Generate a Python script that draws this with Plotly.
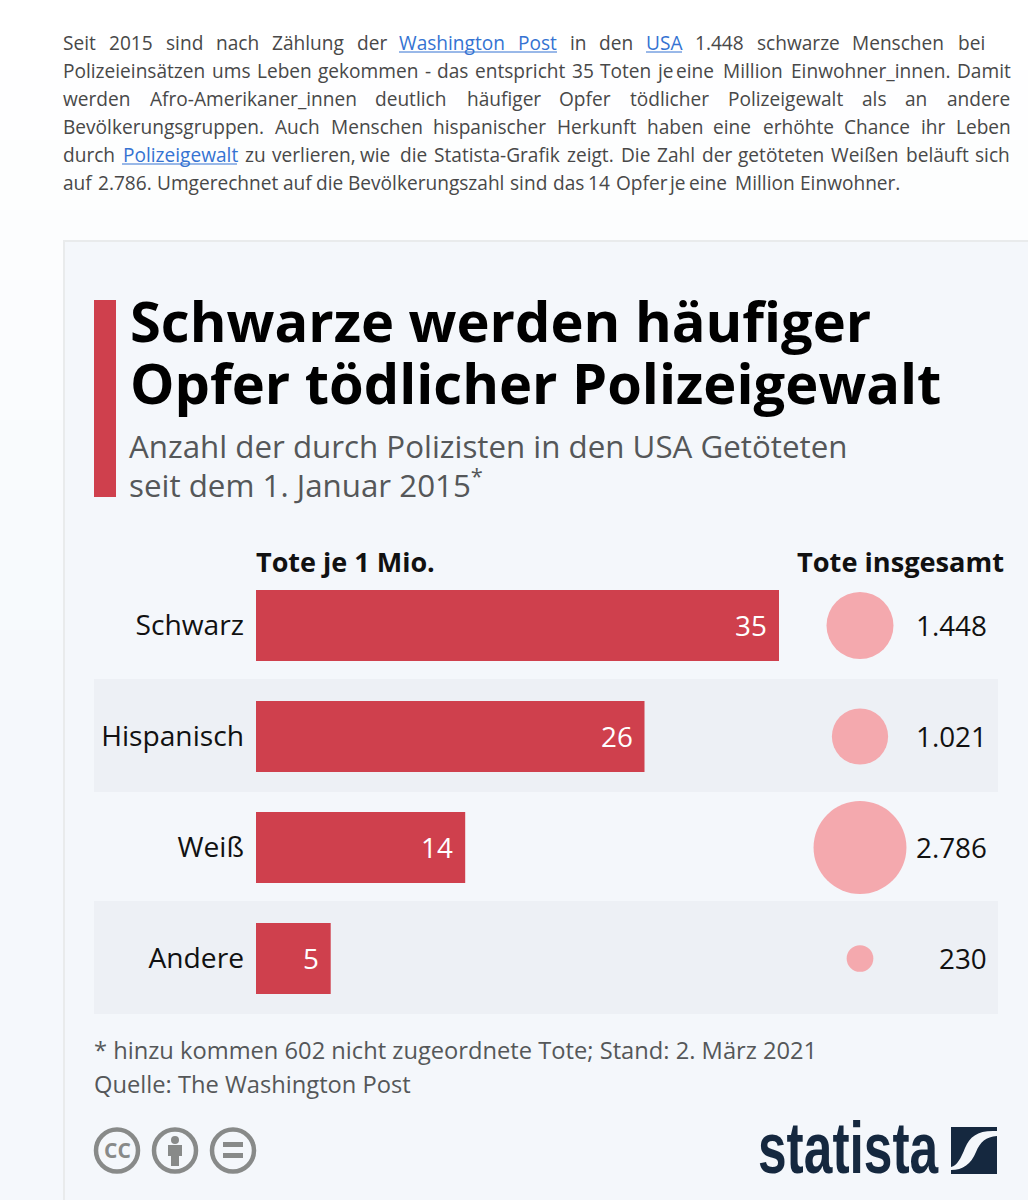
import plotly.graph_objects as go

categories = ['Schwarz', 'Hispanisch', 'Weiß', 'Andere']
per_million = [35, 26, 14, 5]
total_deaths = [1448, 1021, 2786, 230]
total_labels = ['1.448', '1.021', '2.786', '230']

RED = '#cf404d'
PINK = '#f4a9ae'
CARD = '#f4f7fb'
STRIPE = '#edf0f5'
NAVY = '#15283f'
GREY = '#888a89'
BODY = '#484848'
LINK = '#3573d2'
FONT = 'Open Sans'

# justified lines of the intro text: (y, [(x, word), ...])
intro_lines = [
    (43, [(63, 'Seit'), (109, '2015'), (166, 'sind'), (216, 'nach'), (272, 'Zählung'), (357, 'der'),
          (399, 'Washington'), (518, 'Post'), (570, 'in'), (599, 'den'), (646, 'USA'),
          (695, '1.448'), (757, 'schwarze'), (852, 'Menschen'), (958, 'bei')]),
    (71, [(63, 'Polizeieinsätzen'), (212, 'ums'), (257, 'Leben'), (318, 'gekommen'), (425, '-'), (437, 'das'),
          (475, 'entspricht'), (572, '35'), (600, 'Toten'), (656, 'je'), (676, 'eine'), (723, 'Million'),
          (791, 'Einwohner_innen.'), (957, 'Damit')]),
    (99, [(63, 'werden'), (150, 'Afro-Amerikaner_innen'), (375, 'deutlich'), (467, 'häufiger'), (559, 'Opfer'),
          (630, 'tödlicher'), (728, 'Polizeigewalt'), (862, 'als'), (905, 'an'), (947, 'andere')]),
    (127, [(63, 'Bevölkerungsgruppen.'), (275, 'Auch'), (331, 'Menschen'), (433, 'hispanischer'), (557, 'Herkunft'),
           (647, 'haben'), (713, 'eine'), (763, 'erhöhte'), (844, 'Chance'), (921, 'ihr'), (956, 'Leben')]),
    (155, [(63, 'durch'), (123, 'Polizeigewalt'), (245, 'zu'), (272, 'verlieren,'), (360, 'wie'), (400, 'die'),
           (434, 'Statista-Grafik'), (567, 'zeigt.'), (621, 'Die'), (657, 'Zahl'), (702, 'der'),
           (738, 'getöteten'), (831, 'Weißen'), (906, 'beläuft'), (975, 'sich')]),
    (183, [(63, 'auf'), (98, '2.786.'), (157, 'Umgerechnet'), (283, 'auf'), (316, 'die'), (348, 'Bevölkerungszahl'),
           (510, 'sind'), (553, 'das'), (588, '14'), (616, 'Opfer'), (668, 'je'), (689, 'eine'), (735, 'Million'),
           (800, 'Einwohner.')]),
]
links = [(43, 'Washington'), (43, 'Post'), (43, 'USA'), (155, 'Polizeigewalt')]


def px(x):
    return x / 1028


def py(y):
    return 1 - y / 1200


def rect(x0, y0, x1, y1, color):
    return dict(type='rect', xref='paper', yref='paper', x0=px(x0), x1=px(x1), y0=py(y0), y1=py(y1),
                fillcolor=color, line_width=0, layer='below')


def label(x, y, text, size, color='#111111', anchor='left', bold=False, family=FONT):
    return dict(xref='paper', yref='paper', x=px(x), y=py(y), text=text, showarrow=False, borderpad=0,
                xanchor=anchor, yanchor='middle', align=anchor,
                font=dict(family=family, size=size, color=color, weight=700 if bold else 400))


def pt(x, y):
    return '{:.5f},{:.5f}'.format(px(x), py(y))


shapes = []
annotations = []

# page background fades from white to the card tint
steps = [(255, 255, 255), (254, 254, 255), (253, 254, 254), (252, 253, 254), (251, 252, 254), (250, 252, 254),
         (249, 251, 253), (248, 250, 253), (247, 250, 253), (246, 249, 252), (245, 248, 252)]
for i, c in enumerate(steps):
    y0 = i * 70
    y1 = 1200 if i == len(steps) - 1 else y0 + 70
    shapes.append(rect(0, y0, 1028, y1, 'rgb({},{},{})'.format(*c)))

# card
shapes.append(rect(63, 240, 1028, 1200, '#e9ebec'))
shapes.append(rect(65, 242, 1028, 1200, CARD))
shapes.append(rect(94, 300, 116, 497, RED))
shapes.append(rect(94, 679, 998, 792, STRIPE))
shapes.append(rect(94, 901, 998, 1014, STRIPE))

# intro text
for y, words in intro_lines:
    for x, word in words:
        color = LINK if (y, word) in links else BODY
        annotations.append(label(x - 1, y, word, 19.1, color))
for x0, x1, y in [(399, 557, 52), (646, 682, 52), (122, 237, 164)]:
    shapes.append(dict(type='line', xref='paper', yref='paper', x0=px(x0), x1=px(x1), y0=py(y), y1=py(y),
                       line=dict(color=LINK, width=1)))

# headline block
annotations.append(label(129, 320, 'Schwarze werden häufiger', 56, '#000000', bold=True))
annotations.append(label(129, 382, 'Opfer tödlicher Polizeigewalt', 56, '#000000', bold=True))
annotations.append(label(128, 446, 'Anzahl der durch Polizisten in den USA Getöteten', 31.3, '#555759'))
annotations.append(label(128, 483, 'seit dem 1. Januar 2015<sup>*</sup>', 31.3, '#555759'))
annotations.append(label(255, 562, 'Tote je 1 Mio.', 27, '#111111', bold=True))
annotations.append(label(1005, 562, 'Tote insgesamt', 27.2, '#111111', anchor='right', bold=True))

# footer
annotations.append(label(93, 1050, '* hinzu kommen 602 nicht zugeordnete Tote; Stand: 2. März 2021', 23.7, '#555759'))
annotations.append(label(93, 1084, 'Quelle: The Washington Post', 23.7, '#555759'))

# values in the bars and totals column
for cat, v in zip(categories, per_million):
    annotations.append(dict(xref='x', yref='y', x=v, y=cat, text=str(v), showarrow=False, xanchor='right',
                            xshift=-11, yshift=1, borderpad=0, font=dict(family=FONT, size=27.8, color='#ffffff')))
for cat, t in zip(categories, total_labels):
    annotations.append(dict(xref='paper', yref='y', x=px(988), y=cat, text=t, showarrow=False, xanchor='right',
                            yshift=1, borderpad=0, font=dict(family=FONT, size=27.8, color='#111111')))

# licence icons
for cx in [117, 175, 233]:
    shapes.append(dict(type='circle', xref='paper', yref='paper', x0=px(cx - 21), x1=px(cx + 21),
                       y0=py(1171.5), y1=py(1129.5), line=dict(color=GREY, width=4.5)))
annotations.append(label(117, 1150, 'CC', 21, GREY, anchor='center', bold=True))
shapes.append(dict(type='circle', xref='paper', yref='paper', x0=px(171), x1=px(179), y0=py(1144), y1=py(1136),
                   fillcolor=GREY, line_width=0))
shapes.append(rect(168, 1145, 182, 1156, GREY) | dict(layer='above'))
shapes.append(rect(171, 1156, 179, 1166, GREY) | dict(layer='above'))
shapes.append(rect(223, 1142, 243, 1147, GREY) | dict(layer='above'))
shapes.append(rect(223, 1153, 243, 1158, GREY) | dict(layer='above'))

# statista logo
annotations.append(label(757, 1148, 'statista', 72, NAVY, bold=True, family='Liberation Sans'))
shapes.append(rect(951, 1127, 997, 1174, NAVY) | dict(layer='above'))
wave = 'M {} C {} {} {} C {} {} {} L {} C {} {} {} C {} {} {} Z'.format(
    pt(997, 1131), pt(978, 1130), pt(970, 1136), pt(965, 1148),
    pt(961, 1158), pt(957, 1166), pt(951, 1167), pt(951, 1170),
    pt(963, 1170), pt(971, 1164), pt(976, 1152),
    pt(980, 1142), pt(986, 1137), pt(997, 1136))
shapes.append(dict(type='path', xref='paper', yref='paper', path=wave, fillcolor=CARD, line_width=0))

fig = go.Figure()
fig.add_trace(go.Bar(x=per_million, y=categories, orientation='h', marker=dict(color=RED, line_width=0),
                     hoverinfo='skip'))
fig.add_trace(go.Scatter(x=[0] * len(categories), y=categories, xaxis='x2', mode='markers', cliponaxis=False,
                         marker=dict(size=total_deaths, sizemode='area', sizeref=0.6456, color=PINK, opacity=1,
                                     line_width=0),
                         hoverinfo='skip'))

fig.update_layout(
    width=1028, height=1200, margin=dict(l=0, r=0, t=0, b=0, autoexpand=False),
    paper_bgcolor='#ffffff', plot_bgcolor='rgba(0,0,0,0)', showlegend=False, bargap=0.36,
    shapes=shapes, annotations=annotations,
    xaxis=dict(domain=[px(256), px(779)], range=[0, 35], visible=False),
    xaxis2=dict(domain=[px(800), px(920)], range=[-1, 1], visible=False, anchor='y'),
    yaxis=dict(domain=[py(1014), py(570)], type='category', categoryorder='array', categoryarray=categories,
               range=[3.5, -0.5], showgrid=False, zeroline=False, showline=False, ticks='',
               ticklabelstandoff=11, tickfont=dict(family=FONT, size=28.2, color='#111111')),
)

# the logo lettering is condensed, no installed font is that narrow
squeeze = """
document.body.style.margin = '0';
var logo = Array.from(document.querySelectorAll('.annotation-text')).find(function (e) { return e.textContent === 'statista'; });
logo.style.transformBox = 'fill-box';
logo.style.transformOrigin = 'left center';
logo.style.transform = 'scaleX(0.715)';
"""
fig.write_html("out.html", config=dict(displayModeBar=False), post_script=squeeze)
